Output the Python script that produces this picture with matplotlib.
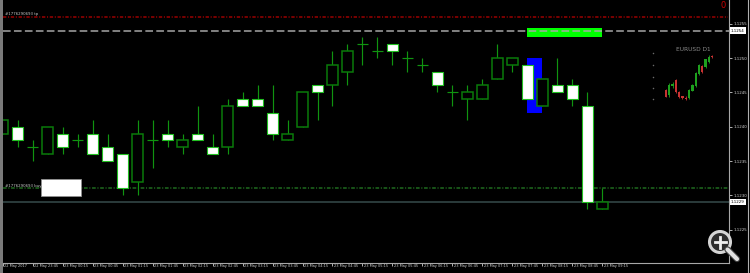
import matplotlib
matplotlib.use("Agg")
import matplotlib.pyplot as plt
import matplotlib.transforms as mtransforms
from matplotlib.patches import Rectangle, Circle

# EURUSD M15, 22 May 23:15 -> 23 May 09:15
opens  = [1.1239, 1.1240, 1.1237, 1.1236, 1.1239, 1.1238, 1.1239, 1.1237, 1.1236, 1.1232,
          1.1238, 1.1239, 1.1237, 1.1239, 1.1237, 1.1237, 1.1244, 1.1244, 1.1242, 1.1238,
          1.1240, 1.1246, 1.1246, 1.1248, 1.1252, 1.1251, 1.1252, 1.1250, 1.1249, 1.1248,
          1.1245, 1.1244, 1.1244, 1.1247, 1.1249, 1.1249, 1.1243, 1.1246, 1.1246, 1.1243,
          1.1228]
highs  = [1.1241, 1.1241, 1.1238, 1.1240, 1.1240, 1.1239, 1.1241, 1.1239, 1.1236, 1.1241,
          1.1241, 1.1241, 1.1239, 1.1243, 1.1239, 1.1244, 1.1245, 1.1246, 1.1246, 1.1241,
          1.1245, 1.1246, 1.1251, 1.1252, 1.1253, 1.1253, 1.1252, 1.1251, 1.1250, 1.1248,
          1.1246, 1.1246, 1.1247, 1.1252, 1.1250, 1.1249, 1.1247, 1.1250, 1.1247, 1.1245,
          1.1231]
lows   = [1.1239, 1.1237, 1.1235, 1.1236, 1.1236, 1.1237, 1.1236, 1.1235, 1.1230, 1.1230,
          1.1234, 1.1237, 1.1236, 1.1238, 1.1236, 1.1236, 1.1243, 1.1243, 1.1238, 1.1238,
          1.1240, 1.1241, 1.1243, 1.1246, 1.1249, 1.1250, 1.1249, 1.1248, 1.1248, 1.1245,
          1.1243, 1.1241, 1.1244, 1.1247, 1.1248, 1.1244, 1.1243, 1.1245, 1.1243, 1.1228,
          1.1228]
closes = [1.1241, 1.1238, 1.1237, 1.1240, 1.1237, 1.1238, 1.1236, 1.1235, 1.1231, 1.1239,
          1.1238, 1.1238, 1.1238, 1.1238, 1.1236, 1.1243, 1.1243, 1.1243, 1.1239, 1.1239,
          1.1245, 1.1245, 1.1249, 1.1251, 1.1252, 1.1251, 1.1251, 1.1250, 1.1249, 1.1246,
          1.1245, 1.1245, 1.1246, 1.1250, 1.1250, 1.1244, 1.1247, 1.1245, 1.1244, 1.1229,
          1.1229]

time_labels = ["22 May 2017", "22 May 23:45", "23 May 00:15", "23 May 00:45", "23 May 01:15",
               "23 May 01:45", "23 May 02:15", "23 May 02:45", "23 May 03:15", "23 May 03:45",
               "23 May 04:15", "23 May 04:45", "23 May 05:15", "23 May 05:45", "23 May 06:15",
               "23 May 06:45", "23 May 07:15", "23 May 07:45", "23 May 08:15", "23 May 08:45",
               "23 May 09:15"]
price_ticks = [1.1225, 1.1230, 1.1235, 1.1240, 1.1245, 1.1250, 1.1255]

order_id = "#1776290693"
tp_level = 1.1256
ask_level = 1.1254
buy_level = 1.1231
bid_level = 1.1229

# chart objects: (bar from, bar to, price low, price high)
green_obj = (35, 40, 1.12531, 1.12543)
blue_obj = (35, 36, 1.1242, 1.1250)
buy_tag = (2.58, 5.23, 1.12299, 1.12324)

# small EURUSD D1 preview
d1_open  = [1.0700, 1.0620, 1.0760, 1.0860, 1.0673, 1.0600, 1.0580, 1.0567, 1.0690, 1.0764,
            1.0956, 1.1084, 1.1075, 1.1153, 1.1244]
d1_high  = [1.0716, 1.0807, 1.0830, 1.0876, 1.0690, 1.0610, 1.0600, 1.0716, 1.0800, 1.0990,
            1.1116, 1.1100, 1.1200, 1.1260, 1.1255]
d1_low   = [1.0583, 1.0583, 1.0740, 1.0660, 1.0580, 1.0560, 1.0540, 1.0551, 1.0680, 1.0750,
            1.0940, 1.0980, 1.1060, 1.1140, 1.1215]
d1_close = [1.0593, 1.0780, 1.0800, 1.0673, 1.0593, 1.0570, 1.0551, 1.0700, 1.0780, 1.0972,
            1.1100, 1.0993, 1.1190, 1.1233, 1.1223]
d1_levels = [1.1287, 1.1100, 1.0913, 1.0727, 1.0551]

W, H = 750, 273
fig = plt.figure(figsize=(W / 100, H / 100), dpi=100, facecolor="black")


def px_box(l, t, r, b):
    return [l / W, 1 - b / H, (r - l) / W, (b - t) / H]


ax = fig.add_axes(px_box(2.7, 0, 729, 263.3))
ax.set_facecolor("black")
n = len(opens)
xs = list(range(n))
ax.set_xlim(0.027, 48.45)
ax.set_ylim(1.12201, 1.125845)

# candles
wick_col = "#109410"
ax.vlines(xs, lows, highs, color=wick_col, lw=0.85, zorder=3)
bw = 0.75
for i in xs:
    o, c = opens[i], closes[i]
    if abs(o - c) < 1e-7:
        ax.hlines(o, i - bw / 2, i + bw / 2, color=wick_col, lw=0.85, zorder=4)
    elif c > o:
        ax.bar(i, c - o, bottom=o, width=bw, facecolor="black", edgecolor="#0a7a0a",
               lw=1.1, zorder=4)
    else:
        ax.bar(i, o - c, bottom=c, width=bw, facecolor="white", edgecolor="#22c022",
               lw=0.8, zorder=4)

# objects
ax.add_patch(Rectangle((blue_obj[0], blue_obj[2]), blue_obj[1] - blue_obj[0],
                       blue_obj[3] - blue_obj[2], fc="#0000ff", ec="none", zorder=2))
ax.add_patch(Rectangle((green_obj[0], green_obj[2]), green_obj[1] - green_obj[0],
                       green_obj[3] - green_obj[2], fc="#00ff00", ec="none", zorder=2))

# order / price lines
ax.axhline(tp_level, xmax=0.998, color="#9a0000", lw=1.1, ls=(0, (2.2, 1.1, 0.7, 1.1)), zorder=1)
ax.axhline(ask_level, color="#a8a8a8", lw=1.08, ls=(0, (5.1, 2.2)), zorder=3)
ax.axhline(buy_level, xmax=0.998, color="#1f6a1f", lw=1.1, ls=(0, (2.4, 1.1, 0.7, 1.1)), zorder=1)
ax.axhline(bid_level, color="#2b3b3b", lw=1.4, zorder=1)

btrans = mtransforms.blended_transform_factory(ax.transAxes, ax.transData)
ax.text(0.003, tp_level + 0.000035, order_id + " tp", transform=btrans,
        fontsize=2.8, color="#c8c8c8", va="center", ha="left", zorder=6)
ax.text(0.003, buy_level + 0.00004, order_id + " buy", transform=btrans,
        fontsize=2.8, color="#c8c8c8", va="center", ha="left", zorder=6)
ax.add_patch(Rectangle((buy_tag[0], buy_tag[2]), buy_tag[1] - buy_tag[0], buy_tag[3] - buy_tag[2],
                       fc="white", ec="#909090", lw=0.6, zorder=5))

# axes
for s in ["top", "left"]:
    ax.spines[s].set_visible(False)
for s in ["right", "bottom"]:
    ax.spines[s].set_color("#a8a8a8")
    ax.spines[s].set_linewidth(0.8)

ax.yaxis.tick_right()
ax.set_yticks(price_ticks)
ax.set_yticklabels([f"{p:.4f}" for p in price_ticks])
ax.tick_params(axis="y", colors="#d0d0d0", labelsize=2.9, length=2.2, width=0.6, pad=0.8)

ax.set_xticks(xs[::2])
ax.set_xticklabels(time_labels)
ax.tick_params(axis="x", colors="#d0d0d0", labelsize=2.55, length=2.2, width=0.6, pad=-1.5)
shift = mtransforms.ScaledTranslation(1.3 / 100, 0, fig.dpi_scale_trans)
for lbl in ax.get_xticklabels():
    lbl.set_ha("left")
    lbl.set_transform(lbl.get_transform() + shift)

for lvl in [ask_level, bid_level]:
    ax.text(1.0028, lvl, f"{lvl:.4f}", transform=btrans, fontsize=2.9, color="black",
            va="center", ha="left", zorder=7, clip_on=False,
            bbox=dict(boxstyle="square,pad=0.3", fc="white", ec="none"))

# D1 preview
iax = fig.add_axes(px_box(648, 52, 716, 102))
iax.set_facecolor("none")
iax.axis("off")
iax.set_xlim(-5.45, 15.15)
iax.set_ylim(1.0508, 1.1308)
for i in range(len(d1_open)):
    col = "#1ea01e" if d1_close[i] >= d1_open[i] else "#c83232"
    iax.vlines(i, d1_low[i], d1_high[i], color=col, lw=0.6)
    iax.bar(i, abs(d1_close[i] - d1_open[i]), bottom=min(d1_open[i], d1_close[i]), width=0.7,
            color=col, lw=0)
iax.scatter([-3.94] * len(d1_levels), d1_levels, s=1.2, color="#6a6a6a", lw=0)
fig.text(693 / W, 1 - 49.5 / H, "EURUSD D1", fontsize=4.2, color="#8a8a8a", ha="center", va="center")

fig.text(723.5 / W, 1 - 6 / H, "0", fontsize=6, color="#cc0000", ha="center", va="center")

# window frame and zoom icon
ov = fig.add_axes([0, 0, 1, 1])
ov.set_xlim(0, W)
ov.set_ylim(H, 0)
ov.axis("off")
ov.patch.set_alpha(0)
ov.add_patch(Rectangle((0, 0), 2.7, H, fc="#7a7a7a", ec="none"))
ov.plot([747.5, 747.5], [0, H], color="#b0b0b0", lw=0.8)
ov.plot([727.5, 737], [249.5, 259], color="#404040", lw=4.6, solid_capstyle="round")
ov.plot([727.5, 737], [249.5, 259], color="#e0e0e0", lw=3.0, solid_capstyle="round")
ov.add_patch(Circle((720, 242), 10.5, fc="#303030", ec="#e0e0e0", lw=2.2, alpha=0.95))
ov.plot([714.5, 725.5], [242, 242], color="#f0f0f0", lw=2.0)
ov.plot([720, 720], [236.5, 247.5], color="#f0f0f0", lw=2.0)

fig.savefig("out.png", dpi=100, facecolor="black")
